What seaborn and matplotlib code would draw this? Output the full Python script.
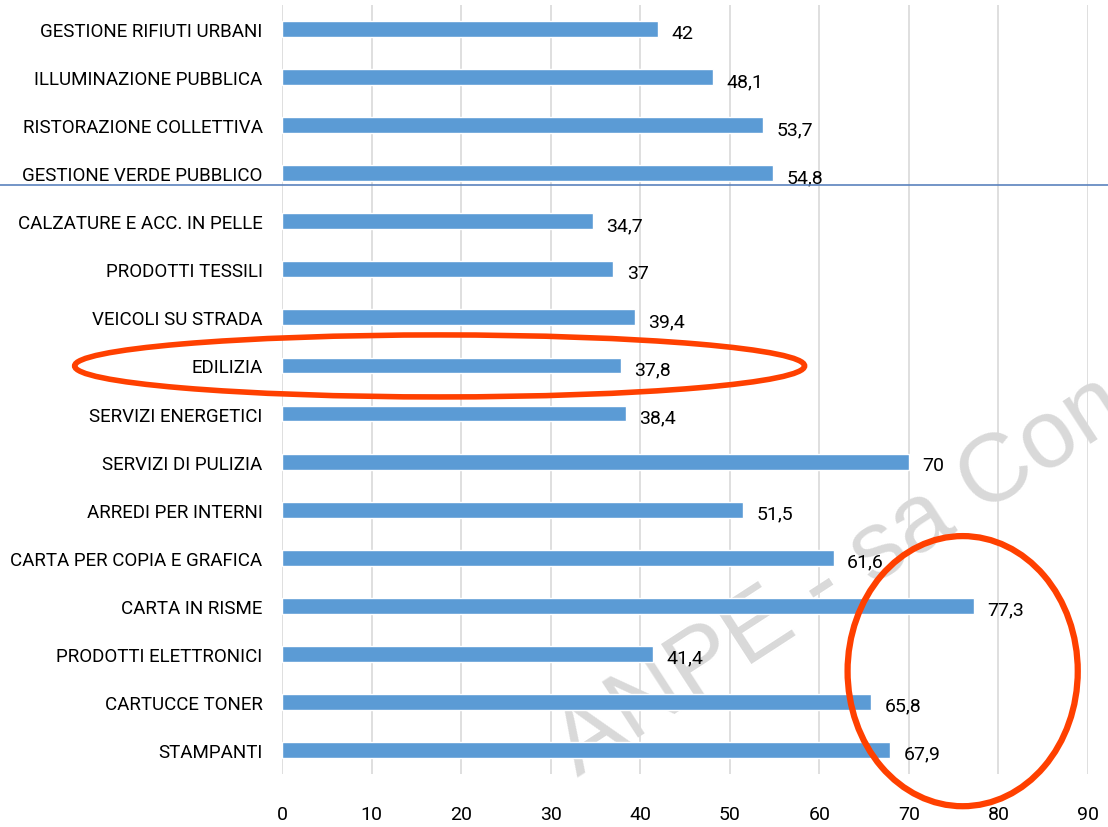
import matplotlib
matplotlib.use("Agg")
import matplotlib.pyplot as plt
import seaborn as sns
import pandas as pd
from matplotlib.patches import Ellipse
from matplotlib.lines import Line2D

categories = [
    "GESTIONE RIFIUTI URBANI", "ILLUMINAZIONE PUBBLICA", "RISTORAZIONE COLLETTIVA",
    "GESTIONE VERDE PUBBLICO", "CALZATURE E ACC. IN PELLE", "PRODOTTI TESSILI",
    "VEICOLI SU STRADA", "EDILIZIA", "SERVIZI ENERGETICI", "SERVIZI DI PULIZIA",
    "ARREDI PER INTERNI", "CARTA PER COPIA E GRAFICA", "CARTA IN RISME",
    "PRODOTTI ELETTRONICI", "CARTUCCE TONER", "STAMPANTI",
]
values = [42, 48.1, 53.7, 54.8, 34.7, 37, 39.4, 37.8, 38.4, 70, 51.5, 61.6, 77.3, 41.4, 65.8, 67.9]
x_ticks = [0, 10, 20, 30, 40, 50, 60, 70, 80, 90]

sns.set_theme(style="white")
plt.rcParams['font.family'] = ['Roboto', 'DejaVu Sans']

df = pd.DataFrame({"categoria": categories, "valore": values})

fig = plt.figure(figsize=(11.08, 8.28), dpi=100)
ax = fig.add_axes([0.2545, 0.064, 0.7275, 0.9288])

# watermark behind the bars
fig.text(0.521, 0.062, "ANPE - sa Con", fontsize=70, color="#d9d9d9", rotation=33,
         ha="left", va="baseline", rotation_mode="anchor", zorder=-1,
         family=['Liberation Sans', 'DejaVu Sans'])
ax.patch.set_alpha(0)

sns.barplot(data=df, x="valore", y="categoria", orient="h", color="#5b9bd5",
            saturation=1, width=0.33, ax=ax)

for i, v in enumerate(values):
    ax.text(v + 1.5, i + 0.08, f"{v:g}".replace(".", ","), va="center", ha="left",
            fontsize=14, color="black")

ax.set_xlim(0, 90)
ax.set_ylim(15.5, -0.5)
ax.set_xticks(x_ticks)
ax.set_xlabel("")
ax.set_ylabel("")
ax.grid(axis="x", color="#d9d9d9", linewidth=1.2)
ax.set_axisbelow(True)
for s in ax.spines.values():
    s.set_visible(False)
ax.tick_params(axis="y", length=0, pad=14, labelsize=13.5, labelcolor="black")
ax.tick_params(axis="x", length=0, pad=22, labelsize=14, labelcolor="black")

# separator line across the whole slide
fig.add_artist(Line2D([0, 1], [0.7754, 0.7754], color="#5b83bd", linewidth=1.2))

# red highlight ellipses
ax.add_patch(Ellipse((17.6, 7.01), 81.5, 1.29, fill=False, edgecolor="#ff4000",
                     linewidth=4, clip_on=False, zorder=5))
ax.add_patch(Ellipse((76.0, 13.36), 25.7, 5.62, fill=False, edgecolor="#ff4000",
                     linewidth=4.5, clip_on=False, zorder=5))

fig.savefig("out.png", dpi=100)
